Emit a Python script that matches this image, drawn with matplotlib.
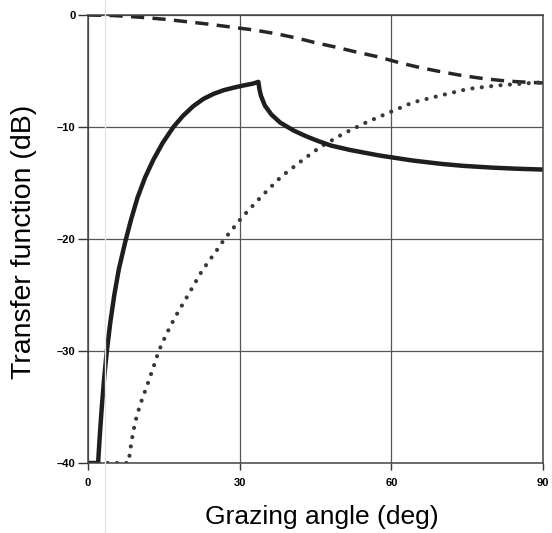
import matplotlib
matplotlib.use("Agg")
import matplotlib.pyplot as plt
from matplotlib.lines import Line2D

# grazing angle (deg) and transfer function (dB)
solid_x = [0, 2.0, 2.3, 2.7, 3.2, 3.75, 4.4, 5.2, 6.1, 7.4, 8.5, 9.8, 11.3, 12.9,
           14.8, 16.9, 18.8, 20.8, 22.8, 24.8, 26.8, 28.7, 30.7, 32.7, 33.7,
           33.9, 34.2, 35.0, 36.3, 38.0, 40.6, 43.0, 45.2, 48.0, 51.8, 57.7,
           64.3, 70.0, 74.2, 80.0, 85.0, 90.0]
solid_y = [-40, -40, -37.8, -35.2, -32.4, -29.9, -27.5, -25.0, -22.7, -20.2, -18.3,
           -16.3, -14.5, -12.95, -11.4, -10.0, -9.0, -8.15, -7.5, -7.05, -6.72,
           -6.5, -6.3, -6.12, -5.97, -6.6, -7.2, -8.1, -8.9, -9.6, -10.3, -10.8,
           -11.2, -11.65, -12.05, -12.55, -13.0, -13.3, -13.47, -13.63, -13.73, -13.8]

dotted_x = [2.0, 8.0, 8.6, 9.3, 10.3, 11.6, 12.9, 14.0, 15.5, 17.2, 19.8, 22.6,
            25.8, 27.0, 30.4, 34.3, 38.3, 42.6, 45.9, 50.5, 55.0, 59.1, 64.3,
            69.6, 75.2, 80.8, 86.8, 90.0]
dotted_y = [-40, -40, -38.1, -36.4, -34.8, -33.2, -31.5, -30, -28.5, -27.0, -25.0,
            -22.8, -20.8, -20, -18.1, -16.2, -14.4, -12.9, -11.8, -10.6, -9.6,
            -8.8, -7.8, -7.2, -6.6, -6.3, -6.1, -6.0]

dashed_x = [0, 5.0, 10.3, 15.6, 19.5, 23.5, 28.7, 33.0, 37.5, 41.5, 45.2, 48.8,
            53.0, 57.5, 61.5, 65.7, 69.6, 73.9, 78.2, 82.8, 87.4, 90.0]
dashed_y = [0, -0.05, -0.2, -0.4, -0.6, -0.8, -1.1, -1.35, -1.7, -2.08, -2.5,
            -2.85, -3.3, -3.75, -4.25, -4.7, -5.05, -5.4, -5.68, -5.9, -6.02, -6.07]

x_ticks = [0, 30, 60, 90]
y_ticks = [0, -10, -20, -30, -40]

plt.rcParams['font.family'] = ['Liberation Sans', 'DejaVu Sans']

fig = plt.figure(figsize=(5.52, 5.33), dpi=100)
ax = fig.add_axes([0.1594, 0.1313, 0.8243, 0.8406])

ax.plot(dashed_x, dashed_y, color='#262626', lw=2.5, linestyle=(0, (3.8, 2.4)))
ax.plot(dotted_x, dotted_y, color='#383838', lw=3.0, linestyle=(0, (0.01, 2.25)),
        dash_capstyle='round')
ax.plot(solid_x, solid_y, color='#1e1e1e', lw=3.2, solid_joinstyle='round')

ax.set_xlim(0, 90)
ax.set_ylim(-40, 0)
ax.set_xticks(x_ticks)
ax.set_yticks(y_ticks)
ax.set_xticklabels([str(v) for v in x_ticks], fontweight='bold', fontsize=8)
ax.set_yticklabels(['0' if v == 0 else '\u2013' + str(-v) for v in y_ticks],
                   fontweight='bold', fontsize=8)
ax.tick_params(axis='x', direction='out', length=5, width=1, color='#333333', pad=6)
ax.tick_params(axis='y', direction='out', length=7, width=1, color='#333333', pad=2)
ax.grid(True, color='#555555', lw=0.9)
for s in ax.spines.values():
    s.set_color('#444444')
    s.set_linewidth(1.1)

ax.set_xlabel('Grazing angle (deg)', fontsize=19)
ax.set_ylabel('Transfer function (dB)', fontsize=20.5)
ax.xaxis.set_label_coords(0.514, -0.094)
ax.yaxis.set_label_coords(-0.112, 0.493)

# faint scanner streak visible in the original
fig.add_artist(Line2D([105 / 552, 105 / 552], [0, 1], color='#e6e6d8', lw=1))

fig.savefig('out.png', dpi=100)
